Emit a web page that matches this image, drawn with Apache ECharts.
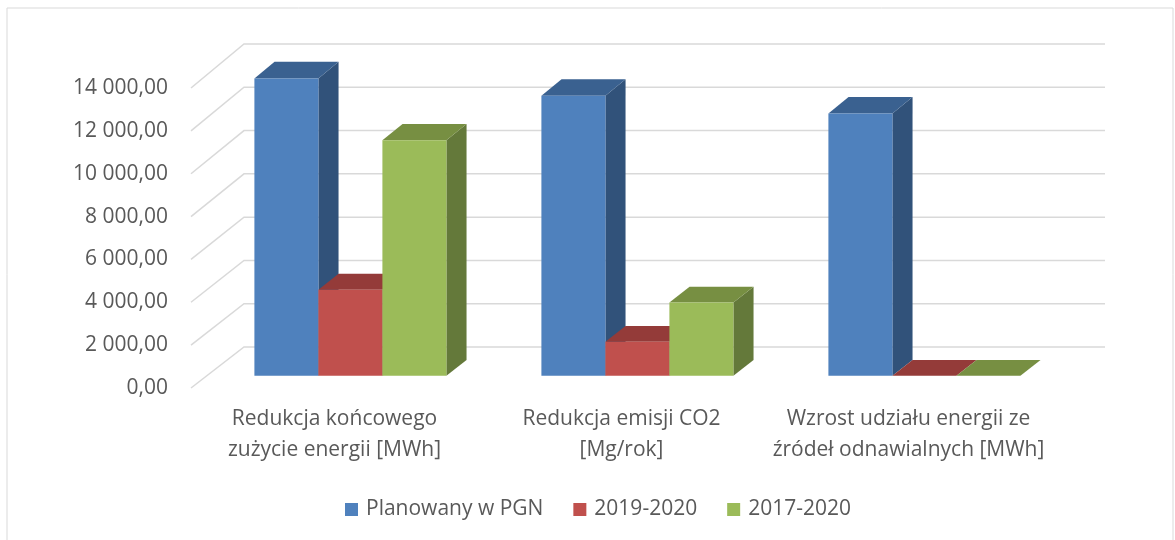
<!DOCTYPE html>
<html>
<head>
<meta charset="utf-8">
<script src="https://cdn.jsdelivr.net/npm/echarts@6/dist/echarts.min.js"></script>
<style>
  html, body { margin: 0; padding: 0; background: #fff; }
  #chart { width: 1175px; height: 540px; }
</style>
</head>
<body>
<div id="chart"></div>
<script>
const categories = [
  'Redukcja końcowego\nzużycie energii [MWh]',
  'Redukcja emisji CO2\n[Mg/rok]',
  'Wzrost udziału energii ze\nźródeł odnawialnych [MWh]'
];
const seriesNames = ['Planowany w PGN', '2019-2020', '2017-2020'];
const planned = [13830, 13020, 12200];
const y2019 = [4000, 1580, 0];
const y2017 = [10950, 3400, 0];
const yTicks = [0, 2000, 4000, 6000, 8000, 10000, 12000, 14000];

// front / top / side colour of each series
const faceColors = [
  ['#4F81BD', '#3A6190', '#31527A'],
  ['#C0504D', '#943B39', '#7E302E'],
  ['#9BBB59', '#778F42', '#64793A']
];

// fake 3d: back wall is shifted right/up from the front plane
const DX = 53, DY = 41, DY_EXTRA = 3, YMAX = 14000;
const BAR_W = 64, T0 = 0.3, T1 = 0.68;

const fmt = (v) => String(Math.round(v)).replace(/\B(?=(\d{3})+(?!\d))/g, ' ') + ',00';

function proj(api, cat, v, t, dx) {
  const p = api.coord([cat, v]);
  return [p[0] + t * DX + dx, p[1] - t * (DY + DY_EXTRA * v / YMAX)];
}

function renderGrid(params, api) {
  const v = api.value(1);
  const cs = params.coordSys;
  const y = api.coord([0, v])[1];
  const yb = y - (DY + DY_EXTRA * v / YMAX);
  return {
    type: 'polyline',
    silent: true,
    shape: { points: [[cs.x, y], [cs.x + DX, yb], [cs.x + cs.width + DX, yb]] },
    style: { stroke: '#d9d9d9', lineWidth: 1.5, fill: null }
  };
}

function makeBar(s) {
  return function (params, api) {
    const cat = api.value(0);
    const v = api.value(1);
    const l = (s - 1) * BAR_W - BAR_W / 2;
    const r = l + BAR_W;
    const ftl = proj(api, cat, v, T0, l), ftr = proj(api, cat, v, T0, r);
    const fbl = proj(api, cat, 0, T0, l), fbr = proj(api, cat, 0, T0, r);
    const btl = proj(api, cat, v, T1, l), btr = proj(api, cat, v, T1, r);
    const bbr = proj(api, cat, 0, T1, r);
    const c = faceColors[s];
    return {
      type: 'group',
      children: [
        { type: 'polygon', shape: { points: [ftr, btr, bbr, fbr] }, style: { fill: c[2] } },
        { type: 'polygon', shape: { points: [ftl, ftr, btr, btl] }, style: { fill: c[1] } },
        { type: 'polygon', shape: { points: [ftl, ftr, fbr, fbl] }, style: { fill: c[0] } }
      ]
    };
  };
}

const values = [planned, y2019, y2017];
const series = [{
  type: 'custom',
  renderItem: renderGrid,
  data: yTicks.map((v) => [0, v]),
  silent: true,
  z: 1
}];
seriesNames.forEach((name, s) => {
  series.push({
    name,
    type: 'custom',
    renderItem: makeBar(s),
    itemStyle: { color: faceColors[s][0] },
    data: values[s].map((v, i) => [i, v]),
    z: 2
  });
});

const option = {
  animation: false,
  backgroundColor: '#fff',
  textStyle: { fontFamily: 'Open Sans' },
  graphic: [{
    type: 'rect',
    silent: true,
    shape: { x: 7, y: 8, width: 1166, height: 560 },
    style: { fill: null, stroke: '#d9d9d9', lineWidth: 1 }
  }],
  grid: { left: 191, right: 123, top: 88, bottom: 152 },
  legend: {
    data: seriesNames,
    left: 340,
    top: 494,
    icon: 'rect',
    itemWidth: 13,
    itemHeight: 13,
    itemGap: 30,
    selectedMode: false,
    textStyle: { fontSize: 21, color: '#595959', fontFamily: 'Open Sans', padding: [0, 0, 0, 3] }
  },
  xAxis: {
    type: 'category',
    data: categories,
    axisLine: { show: false },
    axisTick: { show: false },
    splitLine: { show: false },
    axisLabel: {
      interval: 0,
      margin: 16,
      lineHeight: 31,
      fontSize: 21,
      color: '#595959',
      fontFamily: 'Open Sans'
    }
  },
  yAxis: {
    type: 'value',
    min: 0,
    max: 14000,
    interval: 2000,
    axisLine: { show: false },
    axisTick: { show: false },
    splitLine: { show: false },
    axisLabel: {
      margin: 23,
      fontSize: 21,
      color: '#595959',
      fontFamily: 'Open Sans',
      formatter: fmt
    }
  },
  series
};

const myChart = echarts.init(document.getElementById('chart'));
myChart.setOption(option);
</script>
</body>
</html>
